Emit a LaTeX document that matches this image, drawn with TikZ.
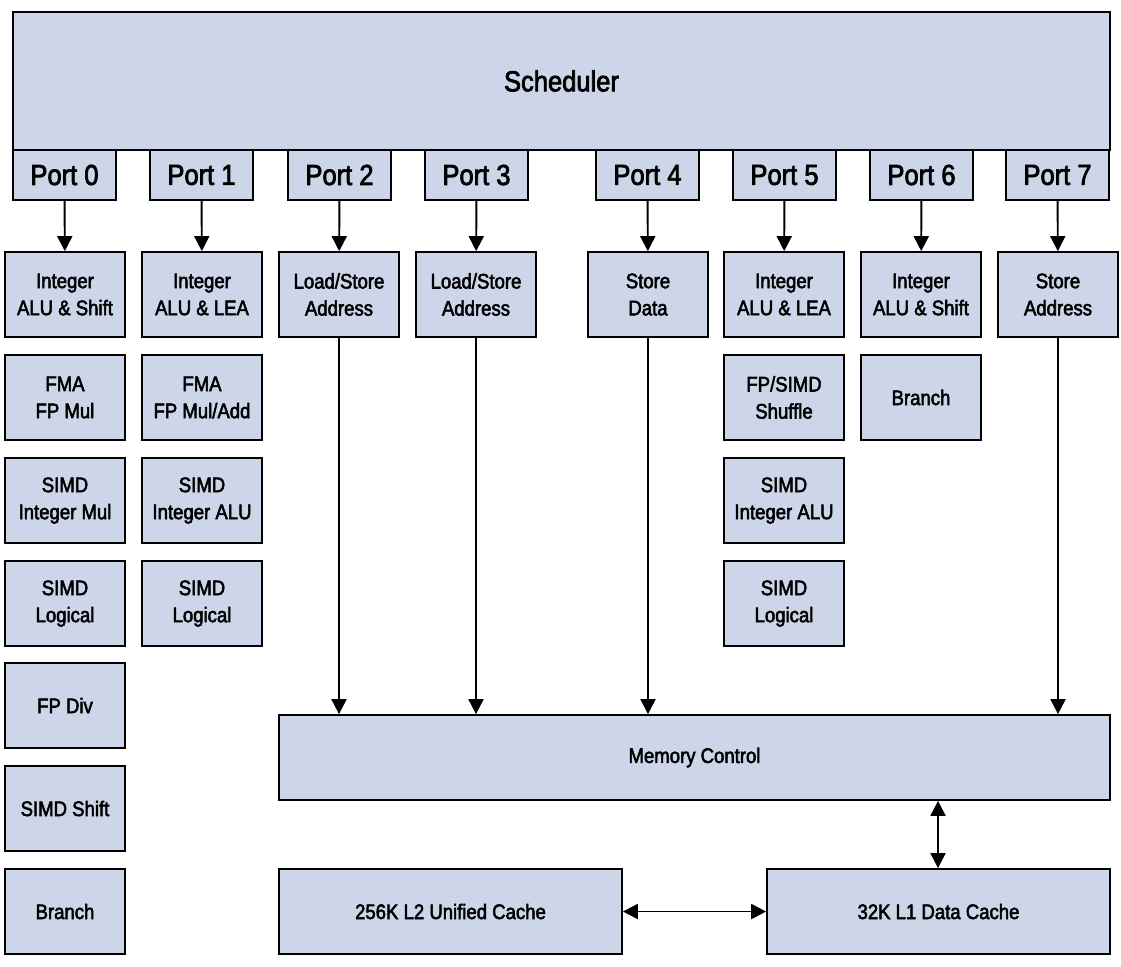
\documentclass[tikz,border=0pt]{standalone}
\usepackage{fontspec}
\setmainfont{Liberation Sans}[FakeStretch=0.88,FakeBold=2.5]
\usepackage{tikz}
\usetikzlibrary{arrows.meta}

\definecolor{boxfill}{HTML}{CCD6E8}

\begin{document}
\begin{tikzpicture}[x=0.02cm,y=-0.02cm,
unit/.style={draw=black,fill=boxfill,line width=1pt,minimum width=2.4cm,minimum height=1.7cm,
  inner sep=0pt,align=center,font=\fontsize{12}{15.4}\selectfont},
port/.style={draw=black,fill=boxfill,line width=1pt,minimum width=2.06cm,minimum height=1.0cm,
  inner sep=0pt,font=\fontsize{16.5}{18}\selectfont},
widebox/.style={unit,minimum height=1.7cm},
myedge/.style={-{Triangle[length=3mm,width=3mm]},line width=1.1pt},
bothedge/.style={{Triangle[length=3mm,width=3mm]}-{Triangle[length=3mm,width=3mm]},line width=1.1pt}]
\useasboundingbox (0,0) rectangle (1121,966);
\node[port,minimum width=21.94cm,minimum height=2.76cm] (Sched) at (561.5,81) {Scheduler};
\node[port] (P0) at (64.5,175) {Port 0};
\node[port] (P1) at (201.5,175) {Port 1};
\node[port] (P2) at (339.5,175) {Port 2};
\node[port] (P3) at (476.5,175) {Port 3};
\node[port] (P4) at (647.5,175) {Port 4};
\node[port] (P5) at (784.5,175) {Port 5};
\node[port] (P6) at (921.5,175) {Port 6};
\node[port] (P7) at (1057.5,175) {Port 7};
% port 0
\node[unit] (A0) at (65,294.5) {Integer\\ALU \& Shift};
\node[unit] (B0) at (65,397.5) {FMA\\FP Mul};
\node[unit] (C0) at (65,500.5) {SIMD\\Integer Mul};
\node[unit] (D0) at (65,603.5) {SIMD\\Logical};
\node[unit] (E0) at (65,705.5) {FP Div};
\node[unit] (F0) at (65,808.5) {SIMD Shift};
\node[unit] (G0) at (65,911.5) {Branch};
% port 1
\node[unit] (A1) at (202,294.5) {Integer\\ALU \& LEA};
\node[unit] (B1) at (202,397.5) {FMA\\FP Mul/Add};
\node[unit] (C1) at (202,500.5) {SIMD\\Integer ALU};
\node[unit] (D1) at (202,603.5) {SIMD\\Logical};
% ports 2-4
\node[unit] (A2) at (339,294.5) {Load/Store\\Address};
\node[unit] (A3) at (476,294.5) {Load/Store\\Address};
\node[unit] (A4) at (648,294.5) {Store\\Data};
% port 5
\node[unit] (A5) at (784,294.5) {Integer\\ALU \& LEA};
\node[unit] (B5) at (784,397.5) {FP/SIMD\\Shuffle};
\node[unit] (C5) at (784,500.5) {SIMD\\Integer ALU};
\node[unit] (D5) at (784,603.5) {SIMD\\Logical};
% port 6 and 7
\node[unit] (A6) at (921,294.5) {Integer\\ALU \& Shift};
\node[unit] (B6) at (921,397.5) {Branch};
\node[unit] (A7) at (1058,294.5) {Store\\Address};
% memory
\node[widebox,minimum width=16.62cm] (Mem) at (694.5,757.5) {Memory Control};
\node[widebox,minimum width=6.86cm] (L2) at (450.5,911.5) {256K L2 Unified Cache};
\node[widebox,minimum width=6.86cm] (L1) at (938.5,911.5) {32K L1 Data Cache};
\foreach \i in {0,...,7}
  \draw[myedge] (P\i) -- (A\i);
\foreach \i in {2,3,4,7}
  \draw[myedge] (A\i) -- (A\i |- Mem.north);
\draw[bothedge] (L1.north -| 938,0) -- (Mem.south -| 938,0);
\draw[bothedge] (L2) -- (L1);
\end{tikzpicture}
\end{document}
